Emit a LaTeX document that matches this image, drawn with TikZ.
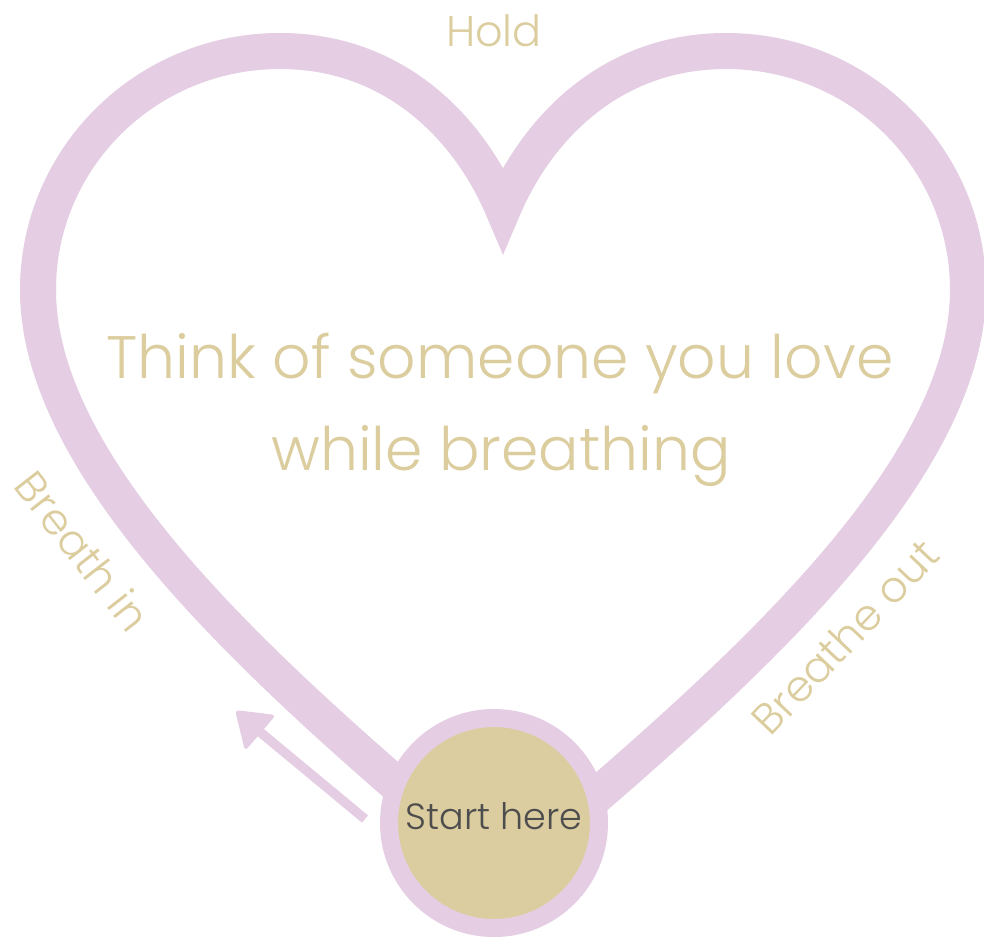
\documentclass[tikz,border=0pt]{standalone}
\usepackage{fontspec}
\setmainfont{Poppins Light}
\definecolor{pinkband}{HTML}{E5CDE3}
\definecolor{goldtext}{HTML}{DCCD9F}
\definecolor{goldfill}{HTML}{DBCD9F}
\definecolor{darktext}{HTML}{4D4D4D}
\tikzset{
  heartband/.style={draw=pinkband, line width=36pt, line join=miter},
  goldlabel/.style={text=goldtext, inner sep=0pt, font=\fontsize{43}{50}\selectfont},
  bigtext/.style={text=goldtext, inner sep=0pt, font=\fontsize{60}{70}\selectfont},
  startcircle/.style={circle, fill=goldfill, draw=pinkband, line width=18pt, minimum size=210pt, inner sep=0pt,
    text=darktext, font=\fontsize{36.5}{40}\selectfont, text height=20pt, text depth=8pt},
  arrowshaft/.style={draw=pinkband, line width=9.5pt, line cap=butt},
  arrowhead/.style={fill=pinkband, rounded corners=4pt}
}
\begin{document}
\begin{tikzpicture}[x=1pt,y=-1pt]
\useasboundingbox (0,0) rectangle (984,938);
\fill[white] (0,0) rectangle (984,938);
% heart outline (centre line of the band)
\draw[heartband] (503,876)
  .. controls (313.5,713) and (38,490) .. (38,290)
  .. controls (38,158) and (146,51) .. (280,51)
  .. controls (400,51) and (472,135) .. (503,209)
  .. controls (534,135) and (606,51) .. (726,51)
  .. controls (860,51) and (968,158) .. (968,290)
  .. controls (968,490) and (692.5,713) .. cycle;
% start circle
\node[startcircle] (start) at (494,823) {Start here};
% arrow
\coordinate (arrS) at (365,819);
\coordinate (arrB) at (260,732);
\coordinate (arrT) at (235,710);
\coordinate (arrL) at (276,715);
\coordinate (arrR) at (245,751);
\draw[arrowshaft] (arrS) -- (arrB);
\fill[arrowhead] (arrT) -- (arrL) -- (arrR) -- cycle;
% texts
\node[goldlabel] (hold) at (494,31) {Hold};
\node[goldlabel, rotate=-52] (breathin) at (83,551) {Breath in};
\node[goldlabel, rotate=46.5] (breatheout) at (845,637) {Breathe out};
\node[bigtext, anchor=base] (think) at (500,378) {Think of someone you love};
\node[bigtext, anchor=base] (while) at (501,470) {while breathing};
\end{tikzpicture}
\end{document}
